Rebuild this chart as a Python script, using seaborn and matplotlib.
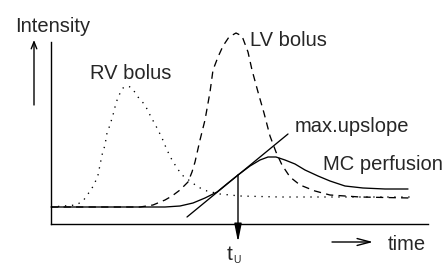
import matplotlib
matplotlib.use("Agg")
import matplotlib.pyplot as plt
import seaborn as sns
import pandas as pd

# values (time, intensity)
rv_time = [0, 25, 32, 37, 43, 47, 51, 54, 56, 59, 62, 64, 67, 72, 77, 81, 87, 94, 99,
           106, 111, 116, 121, 126, 131, 139, 147, 156, 169, 189, 229, 359]
rv_int = [17, 19, 23, 30, 39, 49, 69, 79, 91, 99, 109, 117, 127, 136, 138, 136, 127, 119, 109,
          96, 86, 74, 64, 56, 49, 43, 37, 33, 30, 28, 27, 27]

lv_time = [0, 89, 102, 114, 121, 129, 137, 141, 144, 149, 154, 159, 162, 167, 172, 178, 185,
           191, 197, 201, 207, 213, 219, 225, 231, 239, 249, 264, 279, 309, 359]
lv_int = [17, 17, 19, 24, 28, 34, 42, 52, 62, 84, 104, 132, 154, 167, 178, 187, 191,
          188, 172, 154, 132, 111, 88, 72, 59, 47, 39, 33, 29, 27, 26]

mc_time = [0, 114, 129, 142, 154, 166, 177, 187, 199, 209, 217, 225, 234, 244, 254, 267,
           279, 294, 312, 334, 357]
mc_int = [17, 17, 18, 21, 26, 32, 41, 49, 58, 64, 67, 67, 64, 60, 54, 48,
          43, 38, 36, 35, 35]

tangent_time = [136, 237]
tangent_int = [7, 90]
t_u = 187

curves = pd.DataFrame({
    "time": rv_time + lv_time + mc_time,
    "intensity": rv_int + lv_int + mc_int,
    "curve": ["RV bolus"] * len(rv_time) + ["LV bolus"] * len(lv_time) + ["MC perfusion"] * len(mc_time),
})

sns.set_style("white")
plt.rcParams["font.family"] = ["Liberation Sans", "DejaVu Sans"]

fig = plt.figure(figsize=(4.46, 2.66), dpi=100)
ax = fig.add_axes([51 / 446, 42 / 266, 377 / 446, 182 / 266])

styles = {"RV bolus": (0, (1, 4.3)), "LV bolus": (0, (5.5, 4)), "MC perfusion": "-"}
for name, ls in styles.items():
    d = curves[curves["curve"] == name]
    sns.lineplot(data=d, x="time", y="intensity", ax=ax, color="black", lw=0.95,
                 linestyle=ls, sort=False, estimator=None, clip_on=False)

sns.lineplot(x=tangent_time, y=tangent_int, ax=ax, color="black", lw=0.95,
             sort=False, estimator=None, clip_on=False)

ax.set_xlim(0, 377)
ax.set_ylim(0, 182)
ax.set_xticks([])
ax.set_yticks([])
ax.set_xlabel("")
ax.set_ylabel("")
sns.despine(ax=ax)
for s in ["left", "bottom"]:
    ax.spines[s].set_linewidth(1.0)
    ax.spines[s].set_color("black")

fs = 14.5
ax.text(-36, 192, "Intensity", fontsize=fs, ha="left", va="baseline")
ax.text(39, 145, "RV bolus", fontsize=fs, ha="left", va="baseline")
ax.text(199, 178, "LV bolus", fontsize=fs, ha="left", va="baseline")
ax.text(244, 92, "max.upslope", fontsize=fs, ha="left", va="baseline")
ax.text(272, 54, "MC perfusion", fontsize=fs, ha="left", va="baseline")
ax.text(337, -26, "time", fontsize=fs, ha="left", va="baseline")
ax.text(176, -36, "t", fontsize=15, ha="left", va="baseline")
ax.text(182, -39, "U", fontsize=7.5, ha="left", va="baseline")

ax.annotate("", xy=(-17, 184), xytext=(-17, 119), annotation_clip=False,
            arrowprops=dict(arrowstyle="->,head_length=0.5,head_width=0.2", lw=1.0,
                            color="black", shrinkA=0, shrinkB=0, mutation_scale=10))
ax.annotate("", xy=(322, -18), xytext=(281, -18), annotation_clip=False,
            arrowprops=dict(arrowstyle="->,head_length=0.95,head_width=0.25", lw=1.0,
                            color="black", shrinkA=0, shrinkB=0, mutation_scale=10))
ax.annotate("", xy=(t_u, -18), xytext=(t_u, 49), annotation_clip=False,
            arrowprops=dict(arrowstyle="-|>,head_length=1.1,head_width=0.22", lw=1.0,
                            color="black", shrinkA=0, shrinkB=0, mutation_scale=10))

fig.savefig("out.png", dpi=100)
